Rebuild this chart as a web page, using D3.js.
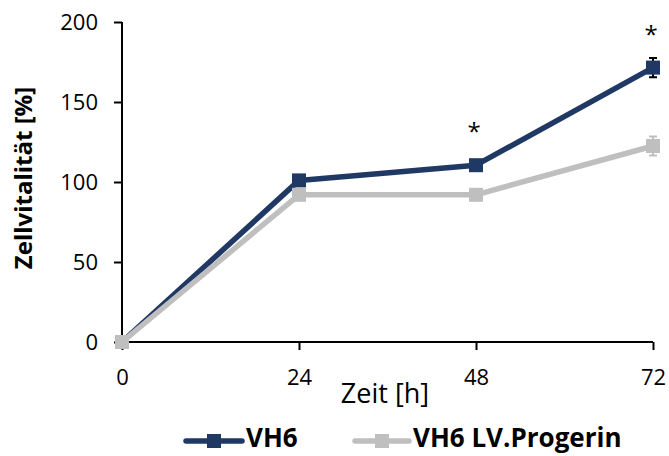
<!DOCTYPE html>
<html lang="de">
<head>
<meta charset="utf-8">
<script src="https://cdn.jsdelivr.net/npm/d3@7"></script>
<style>
  body { margin: 0; background: #fff; }
  svg { display: block; font-family: "Open Sans", sans-serif; }
</style>
</head>
<body>
<svg id="chart" width="669" height="456"></svg>
<script>
// data
var hours = [0, 24, 48, 72];
var vh6 = [0, 101, 110.5, 171.5];
var vh6Err = [0, 2, 3, 6];
var progerin = [0, 92, 92, 122.5];
var progerinErr = [0, 2, 2, 6];
var yTicks = [0, 50, 100, 150, 200];
var stars = [48, 72];
var seriesNames = ["VH6", "VH6 LV.Progerin"];

var navy = "#203864", grey = "#bfbfbf";

var svg = d3.select("#chart");

var x = d3.scaleLinear().domain([0, 72]).range([122, 653]);
var y = d3.scaleLinear().domain([0, 200]).range([342, 22]);

// axes
var yAxis = svg.append("g")
  .attr("transform", "translate(122,0)")
  .call(d3.axisLeft(y).tickValues(yTicks).tickSize(8).tickPadding(16));
var xAxis = svg.append("g")
  .attr("transform", "translate(0,342)")
  .call(d3.axisBottom(x).tickValues(hours).tickSize(8).tickPadding(19));

[yAxis, xAxis].forEach(function (a) {
  a.select(".domain").attr("stroke", "#000").attr("stroke-width", 2);
  a.selectAll(".tick line").attr("stroke", "#000").attr("stroke-width", 2);
  a.selectAll(".tick text")
    .attr("fill", "#000")
    .style("font-size", "22px")
    .style("font-family", "'Open Sans', sans-serif");
});
// excel-like axis: no end caps
yAxis.select(".domain").attr("d", "M0," + y(200) + "V" + y(0));
xAxis.select(".domain").attr("d", "M" + x(0) + ",0H" + x(72));

// axis titles
svg.append("text")
  .attr("transform", "translate(32,178) rotate(-90)")
  .attr("text-anchor", "middle")
  .style("font-size", "24px")
  .style("font-weight", "bold")
  .text("Zellvitalität [%]");

svg.append("text")
  .attr("x", 385)
  .attr("y", 403)
  .attr("text-anchor", "middle")
  .style("font-size", "27px")
  .text("Zeit [h]");

var line = d3.line()
  .x(function (d, i) { return x(hours[i]); })
  .y(function (d) { return y(d); });

function drawSeries(vals, errs, color, errColor) {
  var g = svg.append("g");
  g.append("path")
    .datum(vals)
    .attr("d", line)
    .attr("fill", "none")
    .attr("stroke", color)
    .attr("stroke-width", 5.5)
    .attr("stroke-linejoin", "round");

  // error bars
  g.selectAll(".err")
    .data(vals)
    .enter()
    .append("path")
    .attr("d", function (d, i) {
      var cx = x(hours[i]), t = y(d + errs[i]), b = y(d - errs[i]);
      return "M" + cx + "," + t + "V" + b +
        "M" + (cx - 4) + "," + t + "H" + (cx + 4) +
        "M" + (cx - 4) + "," + b + "H" + (cx + 4);
    })
    .attr("stroke", errColor)
    .attr("stroke-width", 2)
    .attr("fill", "none");

  g.selectAll("rect")
    .data(vals)
    .enter()
    .append("rect")
    .attr("x", function (d, i) { return x(hours[i]) - 7; })
    .attr("y", function (d) { return y(d) - 7; })
    .attr("width", 14)
    .attr("height", 14)
    .attr("fill", color);
}

drawSeries(vh6, vh6Err, navy, "#000");
drawSeries(progerin, progerinErr, grey, grey);

// significance stars
svg.selectAll(".star")
  .data(stars)
  .enter()
  .append("text")
  .attr("x", function (d) { return x(d) - 2; })
  .attr("y", function (d) { return y(vh6[hours.indexOf(d)]) - 25; })
  .attr("text-anchor", "middle")
  .style("font-size", "24px")
  .text("*");

// legend
var legend = [
  { name: seriesNames[0], color: navy, x0: 186, x1: 242 },
  { name: seriesNames[1], color: grey, x0: 355, x1: 409 }
];
var lg = svg.selectAll(".lg")
  .data(legend)
  .enter()
  .append("g");
lg.append("line")
  .attr("x1", function (d) { return d.x0; })
  .attr("x2", function (d) { return d.x1; })
  .attr("y1", 441).attr("y2", 441)
  .attr("stroke", function (d) { return d.color; })
  .attr("stroke-width", 5.5)
  .attr("stroke-linecap", "round");
lg.append("rect")
  .attr("x", function (d) { return (d.x0 + d.x1) / 2 - 7; })
  .attr("y", 434)
  .attr("width", 14).attr("height", 14)
  .attr("fill", function (d) { return d.color; });
lg.append("text")
  .attr("x", function (d) { return d.x1 + 4; })
  .attr("y", 447)
  .style("font-size", "26px")
  .style("font-weight", "bold")
  .text(function (d) { return d.name; });
</script>
</body>
</html>
